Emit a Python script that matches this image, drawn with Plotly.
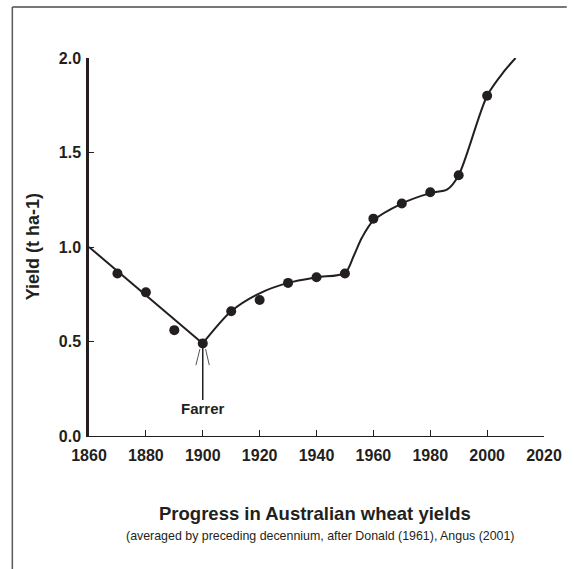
import plotly.graph_objects as go

# Observed decade-average yields (t/ha)
years = [1870, 1880, 1890, 1900, 1910, 1920, 1930, 1940, 1950, 1960, 1970, 1980, 1990, 2000]
yields = [0.86, 0.76, 0.56, 0.49, 0.66, 0.72, 0.81, 0.84, 0.86, 1.15, 1.23, 1.29, 1.38, 1.80]

# Hand-drawn trend: straight decline to Farrer, then smooth rise
decline_years = [1860, 1900]
decline_values = [1.00, 0.49]
trend_years = [1900, 1910, 1920, 1930, 1940, 1950, 1953, 1956, 1960, 1970, 1980, 1986, 1990, 2000, 2006, 2010]
trend_values = [0.49, 0.66, 0.755, 0.81, 0.84, 0.862, 0.95, 1.05, 1.14, 1.23, 1.285, 1.305, 1.38, 1.80, 1.93, 2.00]

farrer_year = 1900
farrer_yield = 0.49
farrer_line_bottom = 0.19
farrer_label_y = 0.148

x_ticks = [1860, 1880, 1900, 1920, 1940, 1960, 1980, 2000, 2020]
y_ticks = [0.0, 0.5, 1.0, 1.5, 2.0]

INK = "#231f20"
FONT = "Liberation Sans, Arial, sans-serif"

fig = go.Figure()
fig.add_trace(go.Scatter(x=decline_years, y=decline_values, mode="lines",
                         line=dict(color=INK, width=2), hoverinfo="skip"))
fig.add_trace(go.Scatter(x=trend_years, y=trend_values, mode="lines",
                         line=dict(color=INK, width=2, shape="spline", smoothing=0.8),
                         hoverinfo="skip"))
fig.add_trace(go.Scatter(x=years, y=yields, mode="markers",
                         marker=dict(color=INK, size=10, line=dict(width=0))))

# Farrer arrow
fig.add_shape(type="line", xref="x", yref="y", x0=farrer_year, x1=farrer_year,
              y0=farrer_line_bottom, y1=farrer_yield, line=dict(color=INK, width=1.5), layer="below")
fig.add_shape(type="line", xref="x", yref="y", x0=farrer_year - 1.0, x1=farrer_year - 2.4,
              y0=farrer_yield - 0.03, y1=farrer_yield - 0.115, line=dict(color="#555", width=1))
fig.add_shape(type="line", xref="x", yref="y", x0=farrer_year + 1.0, x1=farrer_year + 2.3,
              y0=farrer_yield - 0.03, y1=farrer_yield - 0.115, line=dict(color="#555", width=1))
fig.add_annotation(x=farrer_year, y=farrer_label_y, xref="x", yref="y", text="<b>Farrer</b>",
                   showarrow=False, font=dict(family=FONT, size=15, color=INK),
                   xanchor="center", yanchor="middle")

# Outer frame (left and top edges; the rest lies outside the picture)
FRAME_L, FRAME_T = -0.1685, 1.135
fig.add_shape(type="line", xref="paper", yref="paper", x0=FRAME_L, x1=FRAME_L, y0=-0.6, y1=FRAME_T,
              line=dict(color="#5a5a5a", width=1.5))
fig.add_shape(type="line", xref="paper", yref="paper", x0=FRAME_L, x1=1.05, y0=FRAME_T, y1=FRAME_T,
              line=dict(color="#4a4a4a", width=1.5))

# Axis title and captions
fig.add_annotation(xref="paper", yref="paper", x=-0.1225, y=0.5, text="<b>Yield (t ha-1)</b>",
                   textangle=-90, showarrow=False, font=dict(family=FONT, size=18, color=INK),
                   xanchor="center", yanchor="middle")
fig.add_annotation(xref="paper", yref="paper", x=0.497, y=-0.2063,
                   text="<b>Progress in Australian wheat yields</b>", showarrow=False,
                   font=dict(family=FONT, size=18.5, color=INK), xanchor="center", yanchor="middle")
fig.add_annotation(xref="paper", yref="paper", x=0.508, y=-0.2646,
                   text="(averaged by preceding decennium, after Donald (1961), Angus (2001)",
                   showarrow=False, font=dict(family=FONT, size=12.4, color=INK),
                   xanchor="center", yanchor="middle")

fig.update_layout(
    width=574, height=569,
    margin=dict(l=89, r=28, t=58, b=133),
    paper_bgcolor="white", plot_bgcolor="white",
    showlegend=False,
    xaxis=dict(range=[1860, 2020], tickvals=x_ticks, ticktext=[f"<b>{v}</b>" for v in x_ticks],
               showgrid=False, zeroline=False, showline=True, linecolor=INK, linewidth=1.2,
               ticks="inside", ticklen=6, tickwidth=1.2, tickcolor=INK,
               tickfont=dict(family=FONT, size=16, color=INK), ticklabelstandoff=5),
    yaxis=dict(range=[0, 2.0], tickvals=y_ticks, ticktext=[f"<b>{v:.1f}</b>" for v in y_ticks],
               showgrid=False, zeroline=False, showline=True, linecolor=INK, linewidth=2.5,
               ticks="inside", ticklen=5, tickwidth=1.2, tickcolor=INK,
               tickfont=dict(family=FONT, size=16, color=INK), ticklabelstandoff=2),
)

fig.write_html("out.html", config={"displayModeBar": False},
               post_script="document.body.style.margin='0px';")
